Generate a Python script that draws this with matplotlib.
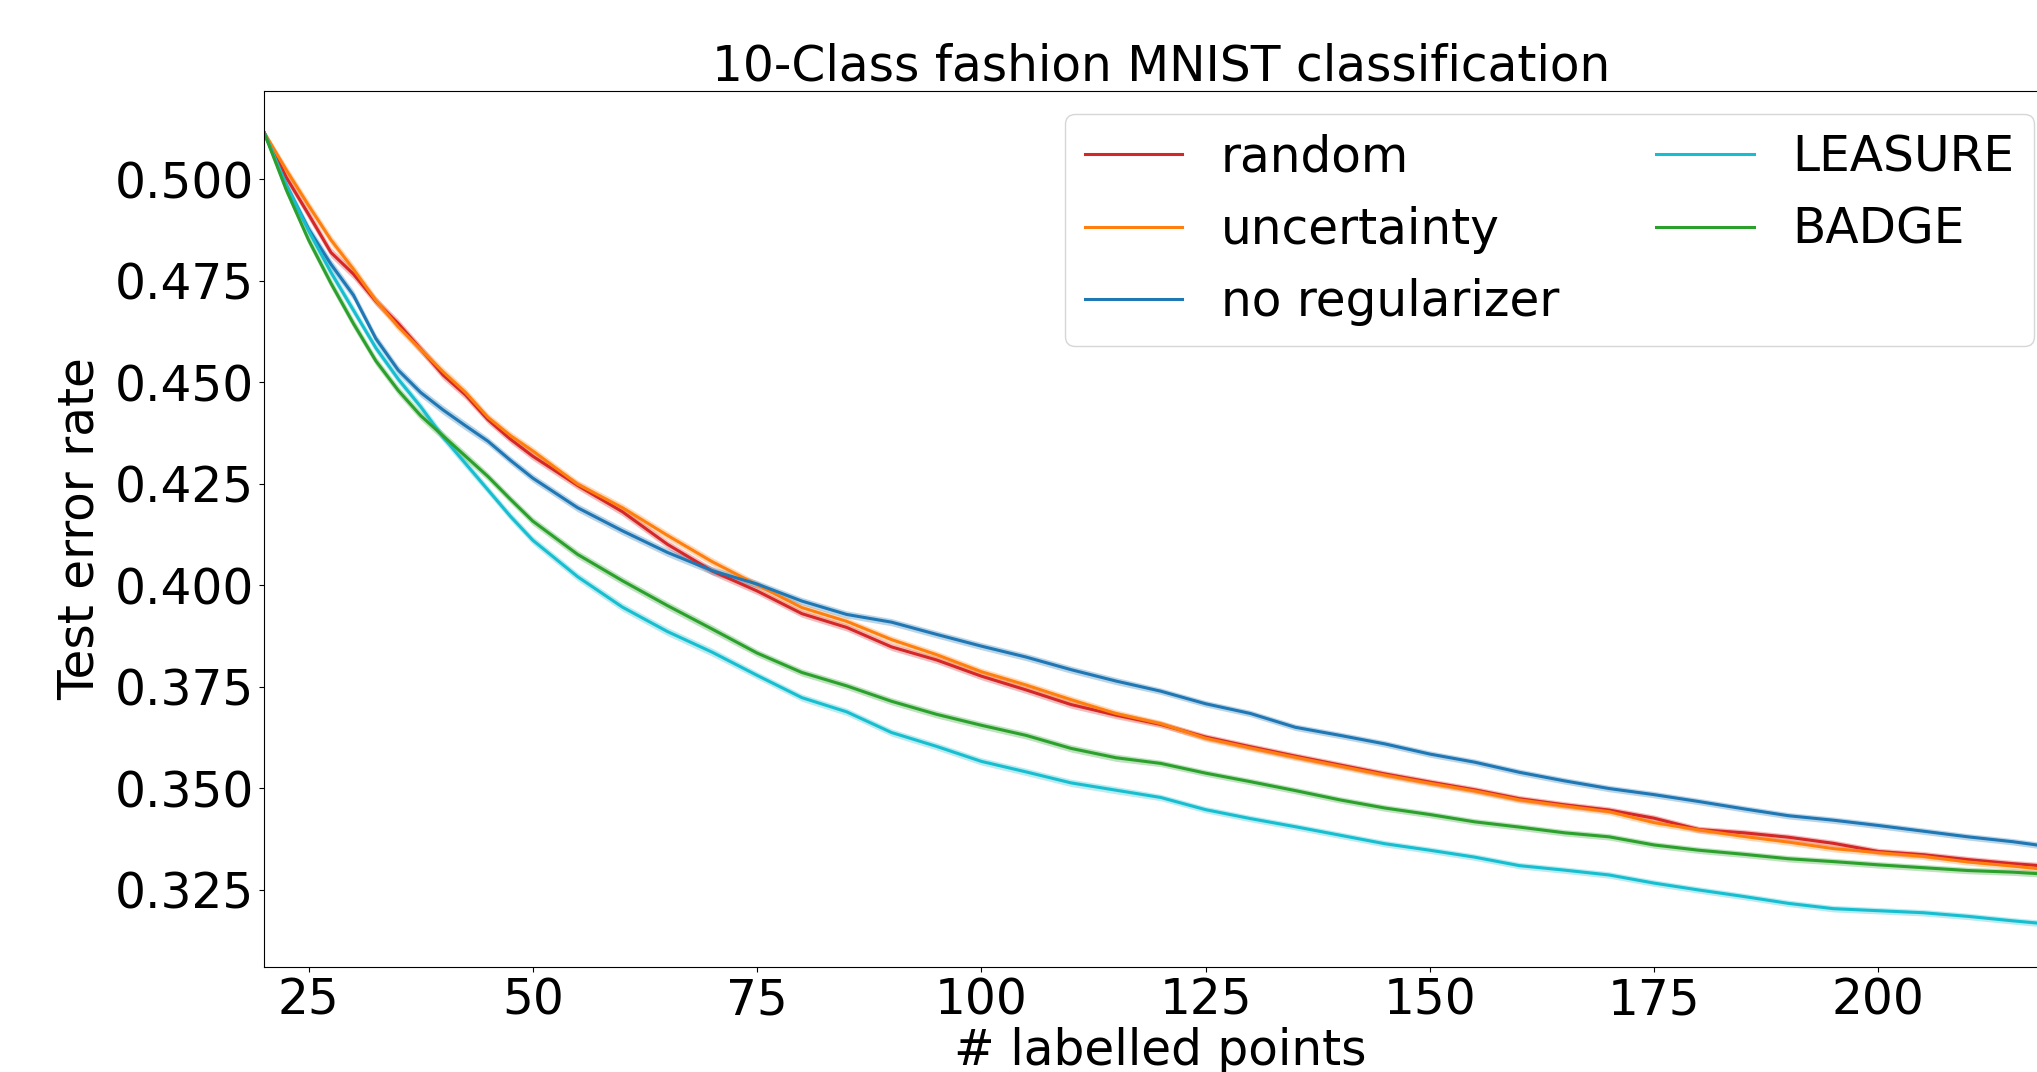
import matplotlib
matplotlib.use("Agg")
import matplotlib.pyplot as plt
import numpy as np

# ---- data ----
labelled_points = [20, 22.5, 25, 27.5, 30, 32.5, 35, 37.5, 40, 42.5, 45, 47.5, 50,
                   55, 60, 65, 70, 75, 80, 85, 90, 95, 100, 105, 110, 115, 120,
                   125, 130, 135, 140, 145, 150, 155, 160, 165, 170, 175, 180,
                   185, 190, 195, 200, 205, 210, 215, 218]

err_random = [0.5118, 0.5006, 0.4914, 0.4820, 0.4767, 0.4700, 0.4645, 0.4582, 0.4518,
              0.4469, 0.4408, 0.4360, 0.4318, 0.4246, 0.4181, 0.4101, 0.4035, 0.3986,
              0.3930, 0.3896, 0.3848, 0.3816, 0.3776, 0.3742, 0.3706, 0.3680, 0.3657,
              0.3626, 0.3602, 0.3579, 0.3557, 0.3535, 0.3515, 0.3496, 0.3474, 0.3459,
              0.3446, 0.3426, 0.3398, 0.3390, 0.3379, 0.3364, 0.3344, 0.3336, 0.3324,
              0.3314, 0.3309]

err_uncertainty = [0.5118, 0.5024, 0.4936, 0.4851, 0.4779, 0.4702, 0.4637, 0.4581, 0.4526,
                   0.4475, 0.4414, 0.4369, 0.4331, 0.4249, 0.4191, 0.4123, 0.4058, 0.4001,
                   0.3945, 0.3911, 0.3866, 0.3829, 0.3787, 0.3754, 0.3718, 0.3684, 0.3659,
                   0.3623, 0.3599, 0.3576, 0.3554, 0.3532, 0.3512, 0.3493, 0.3471, 0.3456,
                   0.3442, 0.3415, 0.3397, 0.3381, 0.3367, 0.3351, 0.3341, 0.3332, 0.3318,
                   0.3308, 0.3301]

err_no_reg = [0.5118, 0.4986, 0.4878, 0.4791, 0.4715, 0.4608, 0.4530, 0.4475, 0.4432,
              0.4393, 0.4355, 0.4308, 0.4264, 0.4191, 0.4134, 0.4081, 0.4036, 0.4003,
              0.3961, 0.3928, 0.3909, 0.3879, 0.3850, 0.3823, 0.3792, 0.3764, 0.3739,
              0.3708, 0.3684, 0.3650, 0.3630, 0.3609, 0.3584, 0.3564, 0.3539, 0.3518,
              0.3499, 0.3484, 0.3467, 0.3449, 0.3432, 0.3421, 0.3408, 0.3394, 0.3380,
              0.3368, 0.3359]

err_leasure = [0.5118, 0.4988, 0.4874, 0.4771, 0.4678, 0.4585, 0.4508, 0.4440, 0.4365,
               0.4300, 0.4235, 0.4170, 0.4111, 0.4021, 0.3946, 0.3886, 0.3835, 0.3778,
               0.3723, 0.3688, 0.3637, 0.3603, 0.3566, 0.3540, 0.3513, 0.3495, 0.3477,
               0.3447, 0.3425, 0.3405, 0.3384, 0.3363, 0.3347, 0.3330, 0.3309, 0.3298,
               0.3286, 0.3266, 0.3249, 0.3233, 0.3216, 0.3203, 0.3198, 0.3193, 0.3184,
               0.3173, 0.3167]

err_badge = [0.5118, 0.4975, 0.4851, 0.4744, 0.4645, 0.4553, 0.4480, 0.4418, 0.4368,
             0.4318, 0.4268, 0.4212, 0.4158, 0.4076, 0.4011, 0.3950, 0.3892, 0.3833,
             0.3785, 0.3752, 0.3714, 0.3682, 0.3655, 0.3630, 0.3598, 0.3575, 0.3561,
             0.3537, 0.3516, 0.3494, 0.3471, 0.3451, 0.3435, 0.3417, 0.3404, 0.3390,
             0.3380, 0.3360, 0.3347, 0.3337, 0.3326, 0.3319, 0.3311, 0.3304, 0.3297,
             0.3293, 0.3289]

# standard-error half width of the shaded bands
std_err = [0.0006, 0.0011, 0.0012, 0.0012, 0.0012, 0.0011, 0.0011, 0.0011, 0.0011,
           0.0011, 0.0010, 0.0010, 0.0010, 0.0010, 0.0010, 0.0010, 0.0010, 0.0009,
           0.0009, 0.0009, 0.0009, 0.0009, 0.0009, 0.0009, 0.0009, 0.0009, 0.0008,
           0.0008, 0.0008, 0.0008, 0.0008, 0.0008, 0.0008, 0.0008, 0.0008, 0.0008,
           0.0008, 0.0008, 0.0008, 0.0008, 0.0008, 0.0008, 0.0008, 0.0008, 0.0008,
           0.0008, 0.0008]

series_names = ["random", "uncertainty", "no regularizer", "LEASURE", "BADGE"]
series_values = [err_random, err_uncertainty, err_no_reg, err_leasure, err_badge]
series_colors = ["#d62728", "#ff7f0e", "#1f77b4", "#17becf", "#2ca02c"]

title = "10-Class fashion MNIST classification"
xlabel = "# labelled points"
ylabel = "Test error rate"
xticks = [25, 50, 75, 100, 125, 150, 175, 200]
yticks = [0.325, 0.350, 0.375, 0.400, 0.425, 0.450, 0.475, 0.500]

# ---- plot ----
FS = 35
plt.rcParams["font.family"] = ["DejaVu Sans"]
fig = plt.figure(figsize=(20.37, 10.72), dpi=100)
ax = fig.add_axes([263.7 / 2037, 1 - 966.7 / 1072, 1794 / 2037, (966.7 - 91) / 1072])

x = np.array(labelled_points)
se = np.array(std_err)
handles = []
for name, vals, col in zip(series_names, series_values, series_colors):
    v = np.array(vals)
    ax.fill_between(x, v - se, v + se, color=col, alpha=0.3, linewidth=0)
    h, = ax.plot(x, v, color=col, linewidth=2.2, label=name)
    handles.append(h)

ax.set_xlim(20, 220)
ax.set_ylim(0.3060, 0.5218)
ax.set_xticks(xticks)
ax.set_xticklabels([str(t) for t in xticks])
ax.set_yticks(yticks)
ax.set_yticklabels([f"{t:.3f}" for t in yticks])
ax.tick_params(labelsize=FS)
ax.set_title(title, fontsize=FS)
ax.set_xlabel(xlabel, fontsize=FS, labelpad=2)
ax.set_ylabel(ylabel, fontsize=FS, labelpad=8)

leg = ax.legend(handles=handles, ncol=2, fontsize=FS, loc="upper right",
                bbox_to_anchor=(2034 / 2037, 1 - 114 / 1072),
                bbox_transform=fig.transFigure, borderaxespad=0)

fig.savefig("out.png", dpi=100)
